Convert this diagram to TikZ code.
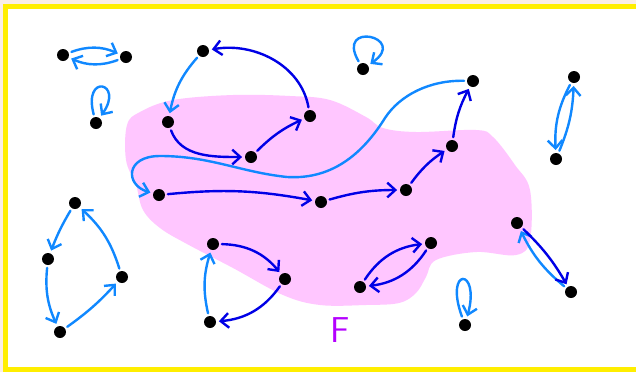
\documentclass[tikz,border=0pt]{standalone}
\usepackage{tikz}
\usepackage{xcolor}
\usetikzlibrary{arrows.meta, positioning, calc}

\definecolor{lblue}{HTML}{1088FF}
\definecolor{dblue}{HTML}{0000E6}
\definecolor{blob}{HTML}{FFC6FF}
\definecolor{frame}{HTML}{FFEE00}
\definecolor{paper}{HTML}{FAEEE6}
\definecolor{fcol}{HTML}{B400FF}

\begin{document}
\begin{tikzpicture}[x=0.75pt, y=0.75pt, >={Straight Barb[length=6pt,width=11pt]},
    dot/.style={circle, fill=black, inner sep=0pt, minimum size=9pt},
    lb/.style={->, lblue, line width=1.8pt, line cap=round, shorten >=2pt, shorten <=2pt},
    db/.style={->, dblue, line width=1.8pt, line cap=round, shorten >=2pt, shorten <=2pt}]
    % page and yellow frame
    \fill[paper] (0,0) rectangle (636,-372);
    \useasboundingbox (0,0) rectangle (636,-372);
    \fill[white] (5.5,-6.5) rectangle (640,-369.5);
    \draw[frame, line width=3.75pt] (5.5,-6.5) rectangle (640,-369.5);

    % the set F
    \fill[blob] plot[smooth cycle, tension=0.6] coordinates {
        (127,-125) (140,-112) (173,-100) (233,-95) (290,-96) (330,-100)
        (366,-117) (383,-128) (416,-132) (476,-130) (493,-137) (515,-165)
        (530,-190) (530,-240) (516,-255) (476,-252) (436,-260) (426,-277)
        (416,-293) (399,-303) (366,-305) (320,-305) (283,-295) (233,-268)
        (187,-244) (160,-228) (143,-210) (136,-185) (126,-160)};
    \node[fcol, font=\sffamily\fontsize{27}{27}\selectfont] (F) at (340,-330) {F};

    % vertices
    \node[dot] (a1) at (63,-55) {};
    \node[dot] (a2) at (126,-57) {};
    \node[dot] (b) at (96,-123) {};
    \node[dot] (c) at (203,-51) {};
    \node[dot] (d) at (168,-122) {};
    \node[dot] (e) at (251,-157) {};
    \node[dot] (f) at (310,-116) {};
    \node[dot] (g) at (159,-195) {};
    \node[dot] (h) at (321,-202) {};
    \node[dot] (i) at (406,-190) {};
    \node[dot] (j) at (452,-146) {};
    \node[dot] (k) at (473,-81) {};
    \node[dot] (l) at (75,-203) {};
    \node[dot] (m) at (48,-259) {};
    \node[dot] (n) at (122,-277) {};
    \node[dot] (o) at (60,-332) {};
    \node[dot] (p) at (213,-244) {};
    \node[dot] (q) at (285,-279) {};
    \node[dot] (r) at (210,-322) {};
    \node[dot] (s) at (360,-287) {};
    \node[dot] (t) at (431,-243) {};
    \node[dot] (u) at (517,-223) {};
    \node[dot] (v) at (571,-292) {};
    \node[dot] (w) at (574,-77) {};
    \node[dot] (x) at (556,-159) {};
    \node[dot] (y) at (363,-69) {};
    \node[dot] (z) at (465,-325) {};

    % edges outside F
    \draw[lb] (a1) to[bend left=22] (a2);
    \draw[lb] (a2) to[bend left=22] (a1);
    \draw[lb] (b) .. controls +(105:52) and +(55:50) .. (b);
    \draw[lb] (y) .. controls +(120:56) and +(35:56) .. (y);
    \draw[lb] (z) .. controls +(110:62) and +(75:60) .. (z);
    \draw[lb] (c) to[bend right=15] (d);
    \draw[lb] (l) to[bend right=5] (m);
    \draw[lb] (m) to[bend right=15] (o);
    \draw[lb] (o) to[bend right=6] (n);
    \draw[lb] (n) to[bend right=15] (l);
    \draw[lb] (r) to[bend left=15] (p);
    \draw[lb] (v) to[bend left=12] (u);
    \draw[lb] (w) to[bend right=15] (x);
    \draw[lb] (x) to[bend right=10] (w);
    \draw[lb] (k) .. controls (430,-80) and (400,-95) .. (385,-118)
        .. controls (365,-150) and (335,-180) .. (287,-177)
        .. controls (240,-172) and (210,-156) .. (160,-156)
        .. controls (125,-156) and (125,-185) .. (g);

    % edges inside F
    \draw[db] (d) to[out=-70, in=180] (e);
    \draw[db] (e) to[bend left=10] (f);
    \draw[db] (f) to[out=100, in=10] (c);
    \draw[db] (g) to[bend left=8] (h);
    \draw[db] (h) to[bend left=8] (i);
    \draw[db] (i) to[bend left=10] (j);
    \draw[db] (j) to[bend left=10] (k);
    \draw[db] (p) to[bend left=25] (q);
    \draw[db] (q) to[bend left=25] (r);
    \draw[db] (s) to[bend left=25] (t);
    \draw[db] (t) to[bend left=25] (s);
    \draw[db] (u) to[bend left=8] (v);
\end{tikzpicture}
\end{document}
